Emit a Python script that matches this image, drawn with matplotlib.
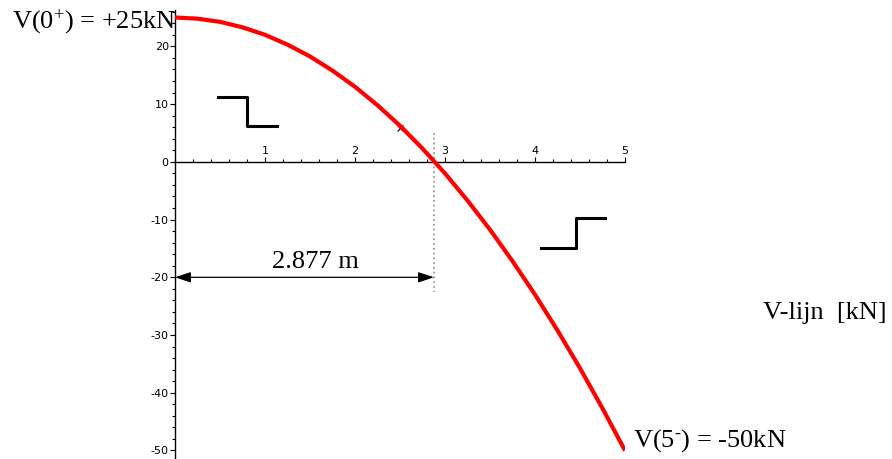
import matplotlib.pyplot as plt
from matplotlib.ticker import MultipleLocator

plt.rcParams['mathtext.fontset'] = 'custom'
plt.rcParams['mathtext.rm'] = 'Liberation Serif'
plt.rcParams['mathtext.it'] = 'Liberation Serif:italic'
plt.rcParams['axes.unicode_minus'] = False

# Shear force along the beam, sampled every 0.25 m
x_pos = [0.0, 0.25, 0.5, 0.75, 1.0, 1.25, 1.5, 1.75, 2.0, 2.25, 2.5,
         2.75, 3.0, 3.25, 3.5, 3.75, 4.0, 4.25, 4.5, 4.75, 5.0]
shear = [25.0, 24.8, 24.25, 23.3, 22.0, 20.3, 18.25, 15.8, 13.0, 9.8, 6.25,
         2.3, -2.0, -6.7, -11.75, -17.2, -23.0, -29.2, -35.75, -42.7, -50.0]

x_zero = 2.877          # position where V = 0
v_start, v_end = 25, -50

# sign-convention glyphs drawn on the plot
step_left_x = [0.48, 0.80, 0.80, 1.13]
step_left_y = [11.2, 11.2, 6.2, 6.2]
step_right_x = [4.07, 4.46, 4.46, 4.78]
step_right_y = [-15.0, -15.0, -9.7, -9.7]

x_ticks = [1, 2, 3, 4, 5]
y_ticks = [-50, -40, -30, -20, -10, 0, 10, 20]

fig = plt.figure(figsize=(8.92, 4.59), dpi=100)
ax = fig.add_axes([175 / 892, 1 / 459, 450 / 892, 448 / 459])
ax.set_xlim(0, 5)
ax.set_ylim(-51.3, 26.3)

# Maple-style axes crossing at the origin
ax.spines['right'].set_visible(False)
ax.spines['bottom'].set_visible(False)
ax.spines['top'].set_position(('data', 0))
ax.spines['left'].set_position(('data', 0))
for s in ('top', 'left'):
    ax.spines[s].set_linewidth(1.0)
ax.xaxis.tick_top()
ax.set_xticks(x_ticks)
ax.set_yticks(y_ticks)
ax.xaxis.set_minor_locator(MultipleLocator(0.2))
ax.yaxis.set_minor_locator(MultipleLocator(2))
ax.tick_params(which='major', length=3.5, width=0.8, labelsize=8, pad=1)
ax.tick_params(which='minor', length=2.2, width=0.8)
ax.patch.set_visible(False)

ax.plot(x_pos, shear, color='#ff0000', linewidth=3, solid_capstyle='butt', zorder=3)
ax.plot([2.5], [5.9], marker='x', color='black', markersize=4, markeredgewidth=0.8)

ax.plot(step_left_x, step_left_y, color='black', linewidth=2.2)
ax.plot(step_right_x, step_right_y, color='black', linewidth=2.2)

# zero crossing and dimension arrow
ax.plot([x_zero, x_zero], [5.0, -22.6], color='#999999', linestyle=':', linewidth=1.3)
ax.annotate('', xy=(0, -20), xytext=(x_zero, -20),
            arrowprops=dict(arrowstyle='<|-|>,head_length=0.6,head_width=0.2',
                            mutation_scale=16, color='black', lw=0.9,
                            shrinkA=0, shrinkB=0))

serif = 'Liberation Serif'
ax.text(x_zero / 2 + 0.12, -17.3, f'{x_zero} m', family=serif, fontsize=19,
        ha='center', va='center')
ax.text(-1.81, 24.3, f'V(0$^{{+}}$) = +{v_start}kN', family=serif, fontsize=19,
        ha='left', va='center', clip_on=False)
ax.text(5.09, -48.2, f'V(5$^{{\\text{{-}}}}$) = {v_end}kN', family=serif, fontsize=19,
        ha='left', va='center', clip_on=False)
ax.text(6.53, -26.2, 'V-lijn  [kN]', family=serif, fontsize=19,
        ha='left', va='center', clip_on=False)

plt.savefig('out.png', dpi=100)
